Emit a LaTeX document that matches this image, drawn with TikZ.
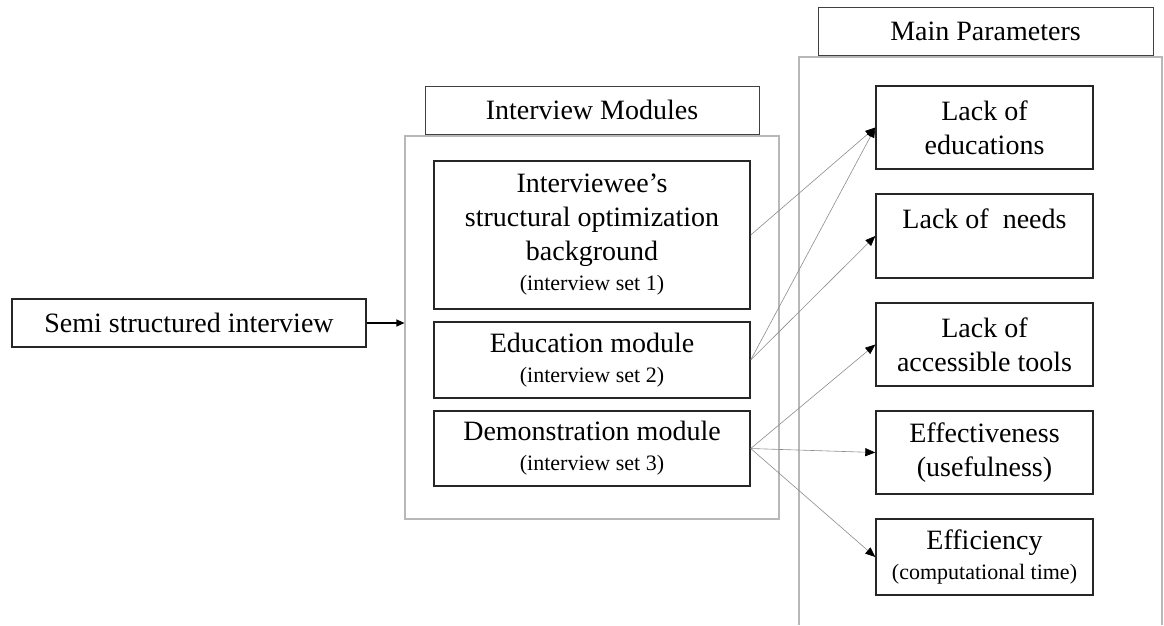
\documentclass[tikz,border=0pt]{standalone}
\usepackage{fontspec}
\setmainfont{Liberation Serif}
\usetikzlibrary{arrows.meta}
\definecolor{framegray}{gray}{0.72}
\definecolor{linkgray}{gray}{0.55}
\newcommand{\setnote}[1]{{\fontsize{22}{26}\selectfont #1}}
\begin{document}
\begin{tikzpicture}[x=1pt,y=-1pt,
  box/.style={draw=black!85,line width=1.4pt,inner sep=0pt,align=center,
    font=\fontsize{28}{34}\selectfont},
  header/.style={draw=black!75,line width=0.9pt,inner sep=0pt,
    font=\fontsize{28}{34}\selectfont},
  frame/.style={draw=framegray,line width=1.1pt},
  link/.style={draw=linkgray,line width=0.6pt,
    -{Triangle[length=10pt,width=8pt,color=black]}},
  lead/.style={draw=black,line width=1.1pt,
    -{Triangle[length=8pt,width=7pt]}}]
\useasboundingbox (0,0) rectangle (1164,625);

% input
\node[box,minimum width=354pt,minimum height=48pt] (semi) at (189,323) {Semi structured interview};

% interview modules column
\node[header,minimum width=334pt,minimum height=48pt] (imhead) at (592,110) {Interview Modules};
\node[frame,minimum width=374pt,minimum height=383pt] (imframe) at (592,327.5) {};
\node[box,minimum width=316pt,minimum height=148pt] (b1) at (592,235)
  {Interviewee's\\structural optimization\\background\\[-4pt]\setnote{(interview set 1)}};
\node[box,minimum width=316pt,minimum height=76pt] (b2) at (592,360)
  {Education module\\[-4pt]\setnote{(interview set 2)}};
\node[box,minimum width=316pt,minimum height=75pt] (b3) at (592,448.5)
  {Demonstration module\\[-4pt]\setnote{(interview set 3)}};

% main parameters column (frame open at the bottom)
\node[header,minimum width=335pt,minimum height=48pt] (mphead) at (985.5,31) {Main Parameters};
\coordinate (mpbl) at (799,625);
\coordinate (mptl) at (799,57);
\coordinate (mptr) at (1162,57);
\coordinate (mpbr) at (1162,625);
\draw[frame] (mpbl) -- (mptl) -- (mptr) -- (mpbr);

\node[box,minimum width=217pt,minimum height=83pt] (pA) at (984.5,127.5) {Lack of\\educations};
\node[box,minimum width=217pt,minimum height=84pt] (pB) at (984.5,236) {Lack of\ \ needs\\\mbox{}};
\node[box,minimum width=217pt,minimum height=83pt] (pC) at (984.5,344.5) {Lack of\\accessible tools};
\node[box,minimum width=217pt,minimum height=83pt] (pD) at (984.5,452.5) {Effectiveness\\(usefulness)};
\node[box,minimum width=217pt,minimum height=76pt] (pE) at (984.5,557)
  {Efficiency\\[-4pt]\setnote{(computational time)}};

% connectors
\draw[lead] (semi.east) -- (semi.east -| imframe.west);
\draw[link] (b1.east) -- (pA.west);
\draw[link] (b2.east) -- (pA.west);
\draw[link] (b2.east) -- (pB.west);
\draw[link] (b3.east) -- (pC.west);
\draw[link] (b3.east) -- (pD.west);
\draw[link] (b3.east) -- (pE.west);
\end{tikzpicture}
\end{document}
